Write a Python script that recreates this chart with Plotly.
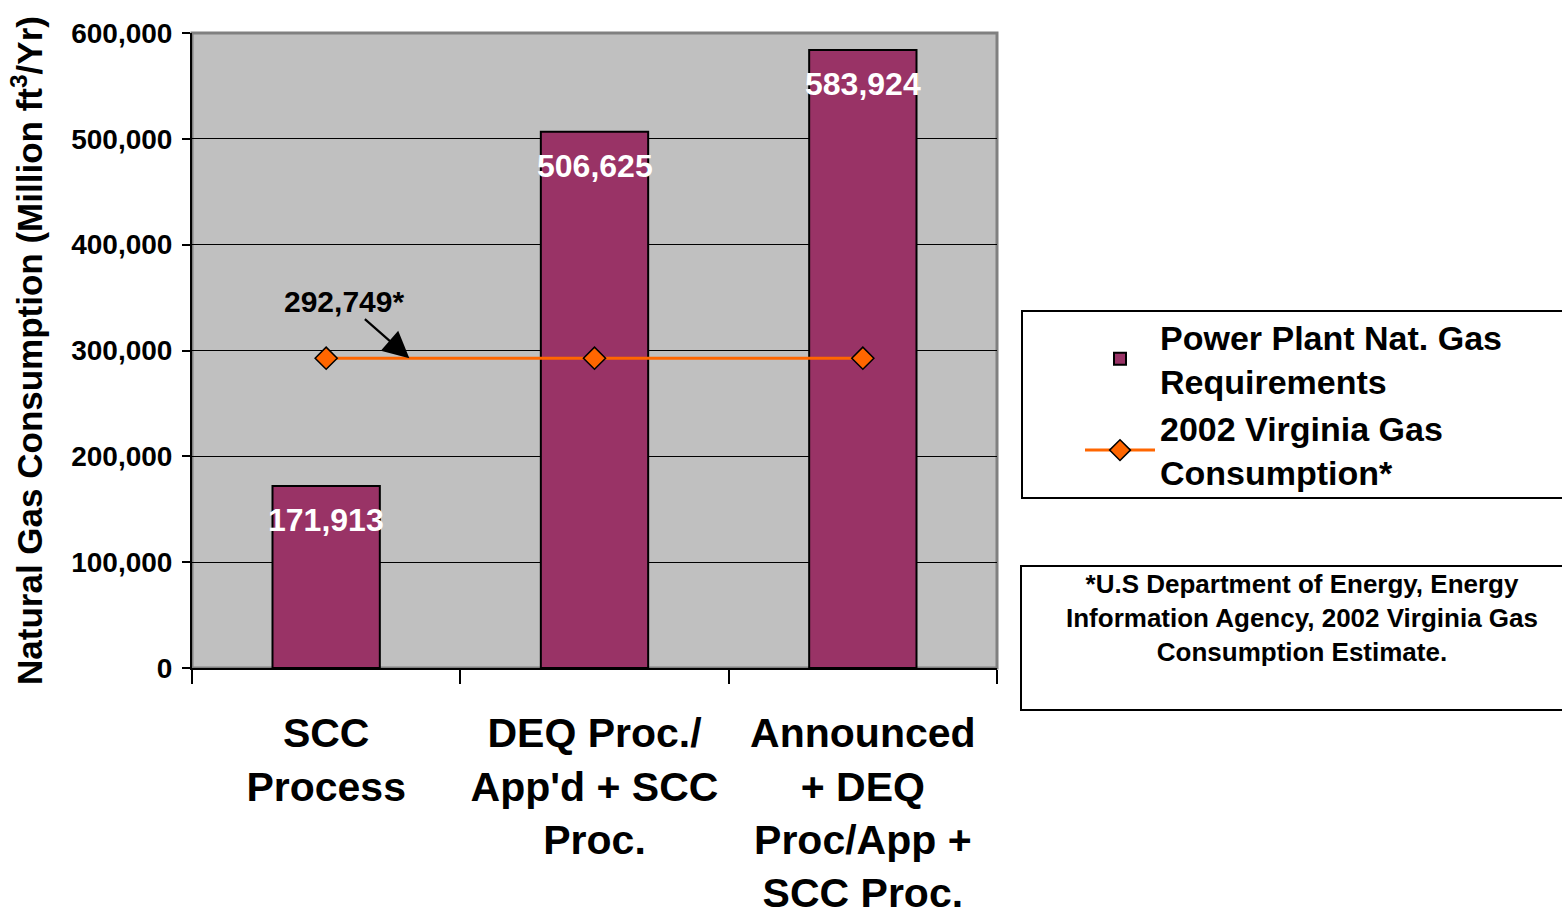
import plotly.graph_objects as go

# ---- data ----
categories = ["SCC<br>Process",
              "DEQ Proc./<br>App'd + SCC<br>Proc.",
              "Announced<br>+ DEQ<br>Proc/App +<br>SCC Proc."]
power_plant = [171913, 506625, 583924]
virginia_gas = [292749, 292749, 292749]
virginia_label = "292,749*"
y_ticks = [0, 100000, 200000, 300000, 400000, 500000, 600000]

FONT = "Liberation Sans, Arial, sans-serif"
BAR_COLOR = "#993366"
LINE_COLOR = "#FF6600"

fig = go.Figure()
fig.add_trace(go.Bar(
    x=categories, y=power_plant, name="Power Plant Nat. Gas<br>Requirements",
    marker=dict(color=BAR_COLOR, line=dict(color="black", width=2)),
    width=0.4, hoverinfo="skip"))
fig.add_trace(go.Scatter(
    x=categories, y=virginia_gas, name="2002 Virginia Gas<br>Consumption*",
    mode="lines+markers",
    line=dict(color=LINE_COLOR, width=3),
    marker=dict(symbol="diamond", size=17, color=LINE_COLOR,
                line=dict(color="black", width=1.5)),
    hoverinfo="skip"))

n = len(categories)

# bar value labels
for c, v in zip(categories, power_plant):
    fig.add_annotation(x=c, y=v, text=f"{v:,}", showarrow=False, yshift=-34,
                       font=dict(family=FONT, size=32, color="white", weight="bold"))

# arrow annotation for Virginia consumption
fig.add_annotation(x=0.31, y=virginia_gas[0], text=virginia_label,
                   showarrow=True, ax=-65, ay=-57, arrowhead=2, arrowsize=2.4,
                   arrowwidth=2.2, arrowcolor="black",
                   font=dict(family=FONT, size=30, color="black", weight="bold"))

# footnote box
fig.add_annotation(xref="paper", yref="paper", x=(1020 - 192) / 805, y=(668 - 565) / 635,
                   xanchor="left", yanchor="top", width=556, height=138,
                   valign="top", align="center", showarrow=False,
                   bordercolor="black", borderwidth=2, borderpad=2, bgcolor="white",
                   text="*U.S Department of Energy, Energy<br>Information Agency, 2002 Virginia Gas<br>Consumption Estimate.",
                   font=dict(family=FONT, size=26, color="black", weight="bold"))

# legend box
fig.add_shape(type="rect", xref="paper", yref="paper",
              x0=(1022 - 192) / 805, x1=(1585 - 192) / 805,
              y0=(668 - 498) / 635, y1=(668 - 311) / 635,
              line=dict(color="black", width=2), fillcolor="white", layer="below")

# plot-area border (gray top/right)
fig.add_shape(type="rect", xref="x domain", yref="y domain", x0=0, x1=1, y0=0, y1=1,
              line=dict(color="#808080", width=3), layer="below")

fig.update_layout(
    width=1562, height=916,
    margin=dict(l=192, r=565, t=33, b=248, autoexpand=False),
    paper_bgcolor="white", plot_bgcolor="#C0C0C0",
    font=dict(family=FONT, color="black"),
    showlegend=True,
    legend=dict(x=(1080 - 192) / 805, y=(668 - 308) / 635, xanchor="left", yanchor="top",
                bgcolor="rgba(0,0,0,0)", borderwidth=0, itemwidth=70,
                font=dict(family=FONT, size=34, color="black", weight="bold"),
                tracegroupgap=0),
    xaxis=dict(type="category", categoryorder="array", categoryarray=categories,
               range=[-0.5, n - 0.5],
               showline=True, linecolor="black", linewidth=2,
               ticks="outside", tickson="boundaries", ticklen=14, tickwidth=2,
               tickcolor="black", ticklabelstandoff=28,
               tickfont=dict(family=FONT, size=41, color="black", weight="bold"),
               showgrid=False),
    xaxis2=dict(overlaying="x", range=[-0.5, n - 0.5], tickmode="array",
                tickvals=[i - 0.5 for i in range(n + 1)], ticks="inside",
                ticklen=13, tickwidth=2, tickcolor="black",
                showticklabels=False, showgrid=False, showline=False,
                zeroline=False, side="bottom"),
    yaxis=dict(range=[0, 600000], tickvals=y_ticks, tickformat=",",
               showline=True, linecolor="black", linewidth=2,
               ticks="outside", ticklen=8, tickwidth=2, tickcolor="black",
               ticklabelstandoff=4,
               showgrid=True, gridcolor="black", gridwidth=1, zeroline=False,
               tickfont=dict(family=FONT, size=28, color="black", weight="bold"),
               title=dict(text="Natural Gas Consumption (Million ft<sup>3</sup>/Yr)",
                          standoff=18,
                          font=dict(family=FONT, size=35, color="black", weight="bold"))),
)

fig.write_html("out.html")
